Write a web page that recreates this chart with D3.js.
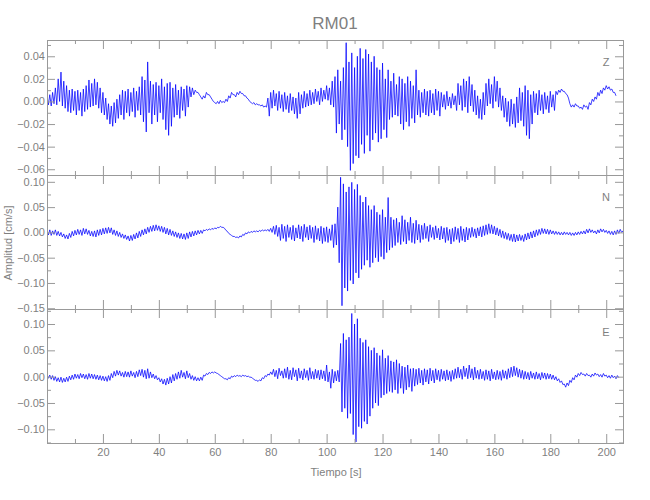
<!DOCTYPE html>
<html>
<head>
<meta charset="utf-8">
<script src="https://cdn.jsdelivr.net/npm/d3@7"></script>
<style>
  html, body { margin: 0; padding: 0; background: #fff; }
  svg { display: block; }
  text { font-family: "Liberation Sans", Arial, sans-serif; fill: #7f7f7f; }
</style>
</head>
<body>
<svg id="chart" width="650" height="500"></svg>
<script>
// ---------------- DATA ----------------
const title = "RM01";
const xLabel = "Tiempo [s]";
const yLabel = "Amplitud [cm/s]";
const components = ["Z", "N", "E"];
const UNIT = 0.001;          // values below are in thousandths of cm/s
const T_STEP = 1;            // one min/max pair per second

// Per-second maximum / minimum of each trace (×0.001 cm/s)
const zHi = [
  5,6,8,12,20,26,18,14,10,11,
  9,10,8,11,14,19,16,20,17,12,
  8,3,-2,-4,-1,2,6,10,9,11,
  8,12,9,13,22,19,35,18,15,17,
  14,20,13,16,17,12,15,10,13,11,
  14,13,12,10,8,4,5,8,6,2,
  -1,0,1,0,2,5,8,6,8,9,
  7,5,2,-1,-1,-2,-3,-3,-4,3,
  8,10,7,9,6,8,5,7,4,3,
  8,6,9,7,10,8,11,9,12,10,
  14,12,18,22,28,18,30,52,35,43,
  30,40,47,38,46,42,35,40,30,28,
  34,20,28,18,25,15,22,20,16,22,
  18,14,28,10,8,11,9,10,7,11,
  9,8,6,9,4,7,5,16,14,20,
  18,22,15,10,5,2,8,16,20,15,
  22,18,12,5,3,0,2,-2,4,12,
  8,14,10,6,9,7,10,6,8,5,
  9,6,9,10,11,9,6,-2,-3,-2,
  -4,-5,-3,-4,-1,2,4,8,10,12,
  14,13,11,8
];
const zLo = [
  -3,-4,-2,-3,0,-4,-6,-9,-10,-8,
  -12,-8,-13,-9,-7,-5,-4,-3,-6,-10,
  -12,-16,-20,-22,-19,-15,-12,-16,-10,-13,
  -9,-14,-8,-12,-18,-27,-10,-20,-12,-18,
  -10,-16,-25,-30,-22,-14,-12,-15,-8,-13,
  -5,4,6,8,6,2,3,6,4,0,
  -2,-2,-1,-1,0,3,6,4,6,7,
  5,3,0,-2,-3,-3,-4,-5,-5,-13,
  -6,-4,-8,-6,-9,-7,-10,-8,-11,-15,
  -11,-6,-5,-4,-3,-2,0,-3,0,2,
  1,-3,-5,-28,-20,-34,-25,-40,-61,-55,
  -48,-50,-38,-46,-30,-44,-34,-28,-36,-33,
  -25,-32,-16,-14,-12,-13,-20,-25,-18,-22,
  -15,-19,-12,-14,-10,-12,-13,-10,-12,-8,
  -13,-5,-7,-4,-6,-3,-8,-3,-8,-5,
  -10,-4,-9,-12,-15,-16,-12,-4,-2,-6,
  0,-5,-8,-14,-18,-22,-20,-23,-19,-17,
  -22,-30,-33,-20,-10,-12,-8,-11,-7,-10,
  -5,-8,6,8,9,7,3,-5,-5,-4,
  -6,-7,-5,-7,-3,0,2,5,7,10,
  11,10,8,5
];
const nHi = [
  4,5,3,5,2,0,-3,-5,-2,2,
  4,6,5,8,7,4,2,3,5,6,
  8,9,10,9,5,3,0,-3,-5,-7,
  -6,-4,-1,2,5,7,10,12,14,15,
  13,12,10,8,6,3,1,-1,-2,-3,
  -1,1,2,3,4,4,5,6,7,8,
  9,10,12,10,4,-2,-6,-8,-9,-7,
  -4,-1,1,2,3,3,4,5,5,6,
  8,12,14,10,16,12,15,10,14,9,
  15,12,16,11,14,10,13,8,12,9,
  11,7,15,17,50,109,96,80,90,99,
  85,95,73,60,70,53,45,53,40,35,
  45,30,69,30,25,28,20,33,25,20,
  30,18,24,16,14,18,12,15,10,13,
  8,12,9,10,6,8,11,8,12,7,
  10,8,10,7,9,11,13,15,17,15,
  12,9,6,3,0,-2,-4,-3,-5,-4,
  -6,-3,-1,1,3,5,6,8,7,6,
  5,3,2,1,0,1,0,0,-1,0,
  1,2,3,6,7,5,3,5,7,6,
  4,3,2,3,5,6,3
];
const nLo = [
  -5,-6,-4,-6,-7,-9,-12,-13,-10,-7,
  -5,-4,-6,-3,-4,-7,-8,-9,-6,-5,
  -3,-2,-1,-4,-6,-8,-10,-12,-14,-17,
  -16,-13,-11,-8,-5,-3,0,2,3,4,
  2,0,-3,-5,-6,-8,-10,-12,-13,-14,
  -12,-9,-7,-5,-3,-2,3,4,5,6,
  7,9,10,8,2,-4,-8,-10,-11,-9,
  -6,-3,-1,0,1,1,2,3,3,2,
  0,-4,-8,-16,-12,-18,-10,-14,-17,-11,
  -13,-18,-10,-15,-12,-20,-14,-17,-22,-18,
  -20,-16,-30,-25,-60,-145,-110,-116,-95,-102,
  -80,-90,-73,-65,-55,-69,-60,-50,-58,-48,
  -53,-40,-35,-30,-26,-20,-24,-18,-23,-16,
  -20,-22,-15,-20,-14,-12,-18,-10,-14,-11,
  -15,-13,-20,-16,-23,-18,-14,-20,-16,-19,
  -15,-10,-8,-11,-7,-9,-6,-4,-2,-3,
  -5,-7,-10,-12,-14,-16,-18,-19,-17,-16,
  -18,-15,-13,-11,-9,-6,-4,-2,-3,-4,
  -3,-4,-4,-5,-5,-4,-5,-6,-6,-5,
  -4,-3,-3,-1,0,-1,-3,-1,1,0,
  -2,-4,-5,-4,-2,0,-3
];
const eHi = [
  4,3,2,0,-2,-1,-3,-1,1,3,
  5,4,6,5,4,6,5,4,3,2,
  1,0,2,6,10,12,11,8,10,9,
  11,8,10,13,14,12,15,9,5,2,
  -2,-4,-5,-3,0,4,6,9,12,8,
  11,6,2,0,-2,-1,3,6,8,9,
  9,6,2,-2,-4,-2,1,2,3,2,
  3,2,1,-1,-5,-7,-6,-2,2,5,
  9,14,12,16,11,15,18,12,17,13,
  16,11,15,12,17,10,14,12,13,11,
  22,9,14,10,12,63,82,70,75,120,
  100,110,73,65,70,57,50,55,45,40,
  51,35,40,30,28,32,25,20,18,22,
  15,16,14,16,12,15,13,16,12,15,
  12,14,11,13,10,12,15,18,14,20,
  16,22,15,18,12,14,10,13,11,14,
  9,12,10,13,11,15,18,20,17,14,
  12,10,8,10,7,9,6,8,7,6,
  5,3,0,-4,-8,-14,-12,-7,-2,3,
  6,8,5,6,3,5,7,5,4,6,
  3,2,3,1,2
];
const eLo = [
  -3,-5,-7,-9,-10,-11,-10,-9,-6,-5,
  -3,-4,-2,-4,-5,-3,-4,-5,-6,-7,
  -8,-9,-7,-2,1,3,1,-1,0,-1,
  1,-2,0,2,-1,-4,-3,-2,-4,-6,
  -10,-14,-16,-14,-12,-8,-5,-3,-1,-4,
  -2,-5,-7,-8,-8,-7,1,4,6,7,
  7,4,0,-4,-6,-4,-1,0,1,0,
  1,0,-1,-3,-7,-9,-8,-4,0,3,
  4,0,-4,2,-3,-2,-5,-6,0,-8,
  -3,-6,-2,-7,-4,-5,-3,-6,-4,-8,
  -10,-22,-12,-8,-10,-67,-60,-79,-70,-110,
  -124,-95,-98,-85,-90,-75,-60,-50,-55,-40,
  -35,-32,-28,-30,-25,-32,-22,-32,-25,-20,
  -28,-18,-15,-12,-16,-10,-14,-8,-12,-6,
  -9,-5,-8,-6,-9,-5,-3,-2,-5,0,
  -4,-2,-6,-3,-5,-4,-7,-5,-8,-4,
  -6,-5,-7,-3,-5,-2,0,2,-1,-3,
  -5,-4,-6,-3,-5,-4,-6,-3,-5,-4,
  -5,-6,-8,-11,-15,-20,-17,-11,-6,-1,
  2,4,1,2,-1,1,3,0,-1,1,
  -2,-3,-2,-4,-2
];

// Axis tick labels
const xTickLabels = [20, 40, 60, 80, 100, 120, 140, 160, 180, 200];
const xMinorTicks = [10, 30, 50, 70, 90, 110, 130, 150, 170, 190];
const zTicks = [-0.06, -0.04, -0.02, 0.00, 0.02, 0.04];
const zMinor = [-0.05, -0.03, -0.01, 0.01, 0.03, 0.05];
const nTicks = [-0.15, -0.10, -0.05, 0.00, 0.05, 0.10];
const nMinor = [-0.125, -0.075, -0.025, 0.025, 0.075];
const eTicks = [-0.10, -0.05, 0.00, 0.05, 0.10];
const eMinor = [-0.125, -0.075, -0.025, 0.025, 0.075, 0.125];

// ---------------- LAYOUT ----------------
const svg = d3.select("#chart");
const xDomain = [0, 206];
const left = 47, right = 623;
const axisColor = "#999999";

const panels = [
  { name: "Z", hi: zHi, lo: zLo, domain: [-0.0651, 0.0544], top: 40,  bottom: 175, ticks: zTicks, minor: zMinor, labelY: 66 },
  { name: "N", hi: nHi, lo: nLo, domain: [-0.1515, 0.1135], top: 175, bottom: 309, ticks: nTicks, minor: nMinor, labelY: 201 },
  { name: "E", hi: eHi, lo: eLo, domain: [-0.126, 0.1285],  top: 309, bottom: 443, ticks: eTicks, minor: eMinor, labelY: 336 }
];

const x = d3.scaleLinear().domain(xDomain).range([left, right]);
const fmt = d3.format(".2f");

function styleAxis(g) {
  g.selectAll("path, line").attr("stroke", axisColor);
  g.select(".domain").remove();
  g.selectAll("text").attr("fill", "#7f7f7f").style("font-size", "11px")
    .style("font-family", "'Liberation Sans', Arial, sans-serif");
}

panels.forEach((p, idx) => {
  const y = d3.scaleLinear().domain(p.domain).range([p.bottom, p.top]);
  const isLast = idx === panels.length - 1;

  const clipId = "clip" + idx;
  svg.append("clipPath").attr("id", clipId)
    .append("rect").attr("x", left).attr("y", p.top)
    .attr("width", right - left).attr("height", p.bottom - p.top);

  // trace: per-second max then min (min/max decimated seismogram)
  const pts = [];
  const n = Math.min(p.hi.length, p.lo.length);
  for (let i = 0; i < n; i++) {
    pts.push([i * T_STEP, p.hi[i] * UNIT]);
    pts.push([(i + 0.5) * T_STEP, p.lo[i] * UNIT]);
  }
  const line = d3.line().x(d => x(d[0])).y(d => y(d[1]));
  svg.append("path")
    .attr("clip-path", `url(#${clipId})`)
    .attr("d", line(pts))
    .attr("fill", "none")
    .attr("stroke", "#0000ff")
    .attr("stroke-width", 0.75)
    .attr("stroke-linejoin", "miter");

  const bMaj = svg.append("g").attr("transform", `translate(0,${p.bottom})`)
    .call(d3.axisBottom(x).tickValues(xTickLabels).tickSize(-9).tickPadding(5)
      .tickFormat(isLast ? d3.format("d") : () => ""));
  styleAxis(bMaj);
  const bMin = svg.append("g").attr("transform", `translate(0,${p.bottom})`)
    .call(d3.axisBottom(x).tickValues(xMinorTicks).tickSize(-4).tickFormat(() => ""));
  styleAxis(bMin);

  const tMaj = svg.append("g").attr("transform", `translate(0,${p.top})`)
    .call(d3.axisTop(x).tickValues(xTickLabels).tickSize(-9).tickFormat(() => ""));
  styleAxis(tMaj);
  const tMin = svg.append("g").attr("transform", `translate(0,${p.top})`)
    .call(d3.axisTop(x).tickValues(xMinorTicks).tickSize(-4).tickFormat(() => ""));
  styleAxis(tMin);

  const lMaj = svg.append("g").attr("transform", `translate(${left},0)`)
    .call(d3.axisLeft(y).tickValues(p.ticks).tickSize(-8).tickPadding(2).tickFormat(fmt));
  styleAxis(lMaj);
  const lMin = svg.append("g").attr("transform", `translate(${left},0)`)
    .call(d3.axisLeft(y).tickValues(p.minor).tickSize(-4).tickFormat(() => ""));
  styleAxis(lMin);

  const rMaj = svg.append("g").attr("transform", `translate(${right},0)`)
    .call(d3.axisRight(y).tickValues(p.ticks).tickSize(-8).tickFormat(() => ""));
  styleAxis(rMaj);
  const rMin = svg.append("g").attr("transform", `translate(${right},0)`)
    .call(d3.axisRight(y).tickValues(p.minor).tickSize(-4).tickFormat(() => ""));
  styleAxis(rMin);

  svg.append("rect")
    .attr("x", left + 0.5).attr("y", p.top + 0.5)
    .attr("width", right - left).attr("height", p.bottom - p.top)
    .attr("fill", "none").attr("stroke", axisColor).attr("stroke-width", 1);

  svg.append("text")
    .attr("x", 606).attr("y", p.labelY)
    .attr("text-anchor", "middle")
    .style("font-size", "11px")
    .text(p.name);
});

svg.append("text")
  .attr("x", 335).attr("y", 29)
  .attr("text-anchor", "middle")
  .style("font-size", "17px")
  .style("font-family", "'Liberation Sans Narrow', 'Liberation Sans', sans-serif")
  .text(title);

svg.append("text")
  .attr("x", 336).attr("y", 476)
  .attr("text-anchor", "middle")
  .style("font-size", "11px")
  .text(xLabel);

svg.append("text")
  .attr("transform", "translate(12,243) rotate(-90)")
  .attr("text-anchor", "middle")
  .style("font-size", "11px")
  .text(yLabel);
</script>
</body>
</html>
